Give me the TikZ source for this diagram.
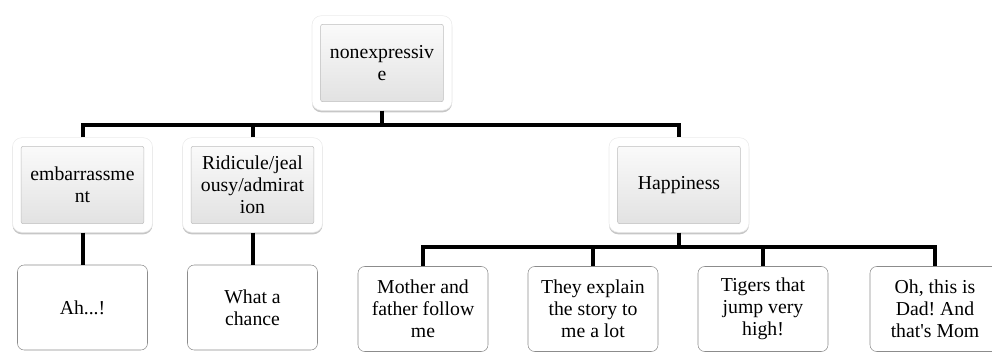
\documentclass[tikz,border=0pt]{standalone}
\usepackage{fontspec}
\setmainfont{Liberation Serif}
\usepackage{xcolor}
\usepackage{tikz}
\usetikzlibrary{positioning,calc,shadows}
\definecolor{boxtop}{RGB}{250,250,250}
\definecolor{boxbot}{RGB}{226,226,226}
\definecolor{leafline}{RGB}{140,140,140}
\frenchspacing
\tikzset{
  frame/.style={draw=black!8,fill=white,rounded corners=7pt,minimum width=105pt,minimum height=71pt,
    drop shadow={shadow xshift=0pt,shadow yshift=-1.5pt,opacity=0.22,fill=black}},
  catbox/.style={draw=black!25,top color=boxtop,bottom color=boxbot,rounded corners=1.5pt,
    minimum width=92pt,minimum height=58pt,align=center,inner sep=1pt,font=\fontsize{14.8}{16.4}\selectfont},
  leaf/.style={draw=leafline,fill=white,rounded corners=5pt,minimum width=97.5pt,minimum height=63.75pt,
    align=center,inner sep=1pt,font=\fontsize{14.8}{16.4}\selectfont},
  conn/.style={line width=3pt,line join=miter}
}
\begin{document}
\begin{tikzpicture}[x=0.75pt,y=-0.75pt]
\useasboundingbox (0,0) rectangle (992,351);
\clip (0,0) rectangle (992,351);
% buses
\coordinate (bus1) at (0,125);
\coordinate (bus2) at (0,247);
% top
\node[frame] (topf) at (382,63) {};
\node[catbox] (top) at (382,63) {nonexpressiv\\e};
% second row
\node[frame] (embf) at (82.5,185) {};
\node[catbox] (emb) at (82.5,185) {embarrassme\\nt};
\node[frame] (ridf) at (252.5,185) {};
\node[catbox] (rid) at (252.5,185) {Ridicule/jeal\\ousy/admirat\\ion};
\node[frame] (hapf) at (679,185) {};
\node[catbox] (hap) at (679,185) {Happiness};
% leaves
\node[leaf] (ah) at (82.5,307.5) {Ah...!};
\node[leaf] (chance) at (252.5,307.5) {What a\\chance};
\node[leaf] (follow) at (423,309) {Mother and\\father follow\\me};
\node[leaf] (story) at (593,309) {They explain\\the story to\\me a lot};
\node[leaf] (tigers) at (763,309) {Tigers that\\jump very\\high!};
\node[leaf] (dad) at (935,309) {Oh, this is\\Dad! And\\that\textquotesingle s Mom};
% connectors
\draw[conn] (topf.south) -- (topf.south |- bus1);
\draw[conn] (embf.north) -- (embf.north |- bus1) -- (hapf.north |- bus1) -- (hapf.north);
\draw[conn] (ridf.north) -- (ridf.north |- bus1);
\draw[conn] (embf.south) -- (ah.north);
\draw[conn] (ridf.south) -- (chance.north);
\draw[conn] (hapf.south) -- (hapf.south |- bus2);
\draw[conn] (follow.north) -- (follow.north |- bus2) -- (dad.north |- bus2) -- (dad.north);
\draw[conn] (story.north) -- (story.north |- bus2);
\draw[conn] (tigers.north) -- (tigers.north |- bus2);
\end{tikzpicture}
\end{document}
